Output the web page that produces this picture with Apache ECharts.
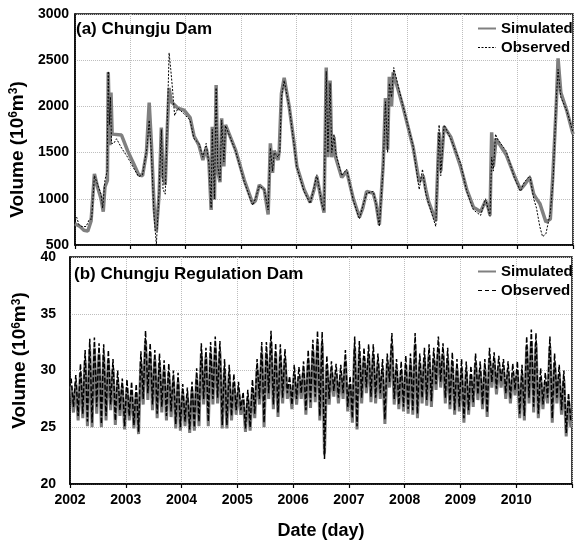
<!DOCTYPE html>
<html>
<head>
<meta charset="utf-8">
<script src="https://cdn.jsdelivr.net/npm/echarts@6/dist/echarts.min.js"></script>
<style>
  html, body { margin: 0; background: #fff; }
  #chart { width: 575px; height: 541px; }
</style>
</head>
<body>
<div id="chart"></div>
<script>
// (a) Chungju Dam storage, [decimal year, 10^6 m3]
const damSim = [
  [2002.00, 730], [2002.09, 700], [2002.16, 660], [2002.23, 650], [2002.29, 760], [2002.35, 1270],
  [2002.41, 1120], [2002.47, 1000], [2002.51, 860], [2002.54, 1130], [2002.585, 1200], [2002.60, 2370],
  [2002.63, 1580], [2002.65, 2150], [2002.67, 1700], [2002.70, 1720], [2002.84, 1690], [2002.95, 1520],
  [2003.06, 1380], [2003.15, 1260], [2003.22, 1250], [2003.29, 1500], [2003.34, 2040], [2003.38, 1600],
  [2003.43, 900], [2003.47, 650], [2003.52, 1050], [2003.56, 1770], [2003.59, 1250], [2003.63, 1150],
  [2003.67, 1800], [2003.70, 2200], [2003.74, 2050], [2003.86, 1980], [2003.97, 1960], [2004.08, 1880],
  [2004.15, 1680], [2004.24, 1580], [2004.31, 1420], [2004.37, 1550], [2004.42, 1400], [2004.46, 880],
  [2004.48, 1780], [2004.52, 990], [2004.55, 2230], [2004.58, 1300], [2004.62, 1180], [2004.65, 1870],
  [2004.69, 1350], [2004.72, 1800], [2004.90, 1530], [2005.06, 1200], [2005.21, 950], [2005.26, 980],
  [2005.33, 1150], [2005.42, 1100], [2005.49, 830], [2005.53, 1600], [2005.57, 1280], [2005.60, 1520],
  [2005.67, 1420], [2005.69, 1520], [2005.73, 2140], [2005.78, 2310], [2005.87, 2000], [2005.96, 1600],
  [2006.01, 1350], [2006.14, 1100], [2006.25, 960], [2006.32, 1100], [2006.37, 1240], [2006.46, 960],
  [2006.50, 850], [2006.54, 2420], [2006.57, 1450], [2006.61, 2280], [2006.64, 1450], [2006.68, 1670],
  [2006.71, 1450], [2006.82, 1230], [2006.91, 1300], [2007.03, 1000], [2007.14, 800], [2007.20, 900],
  [2007.27, 1080], [2007.39, 1060], [2007.44, 950], [2007.50, 720], [2007.57, 1380], [2007.61, 2090],
  [2007.65, 1530], [2007.68, 2320], [2007.72, 2000], [2007.75, 2370], [2007.93, 1990], [2008.11, 1560],
  [2008.22, 1180], [2008.29, 1250], [2008.34, 1100], [2008.39, 970], [2008.52, 760], [2008.58, 1720],
  [2008.61, 1300], [2008.67, 1780], [2008.79, 1670], [2008.97, 1345], [2009.08, 1100], [2009.20, 910],
  [2009.33, 860], [2009.42, 980], [2009.47, 900], [2009.50, 820], [2009.53, 1720], [2009.56, 1350],
  [2009.61, 1650], [2009.79, 1480], [2009.94, 1250], [2010.05, 1100], [2010.12, 1150], [2010.22, 1230],
  [2010.29, 1050], [2010.34, 1000], [2010.40, 950], [2010.51, 750], [2010.59, 780], [2010.64, 1300],
  [2010.70, 2050], [2010.73, 2520], [2010.78, 2150], [2010.89, 1950], [2011.00, 1700]
];
const damObs = [
  [2002.00, 760], [2002.03, 800], [2002.07, 720], [2002.12, 700], [2002.20, 700], [2002.26, 780],
  [2002.30, 780], [2002.35, 1250], [2002.41, 1150], [2002.47, 1050], [2002.50, 900], [2002.54, 1200],
  [2002.58, 1300], [2002.60, 2380], [2002.62, 1800], [2002.64, 2100], [2002.66, 1600], [2002.70, 1600],
  [2002.75, 1650], [2002.84, 1550], [2002.95, 1450], [2003.06, 1330], [2003.15, 1240], [2003.22, 1260],
  [2003.30, 1550], [2003.34, 1850], [2003.38, 1500], [2003.43, 800], [2003.47, 500], [2003.52, 1100],
  [2003.56, 1750], [2003.59, 1100], [2003.63, 1050], [2003.67, 1900], [2003.70, 2580], [2003.73, 2400],
  [2003.76, 2200], [2003.80, 1900], [2003.86, 1980], [2003.97, 1920], [2004.08, 1850], [2004.15, 1650],
  [2004.24, 1600], [2004.31, 1450], [2004.37, 1600], [2004.42, 1380], [2004.46, 900], [2004.48, 1750],
  [2004.52, 1000], [2004.55, 2200], [2004.58, 1350], [2004.62, 1200], [2004.65, 1850], [2004.69, 1400],
  [2004.72, 1790], [2004.90, 1520], [2005.06, 1180], [2005.21, 930], [2005.26, 1000], [2005.33, 1140],
  [2005.42, 1100], [2005.49, 880], [2005.53, 1550], [2005.57, 1300], [2005.60, 1500], [2005.67, 1450],
  [2005.70, 1500], [2005.73, 2100], [2005.78, 2280], [2005.87, 2000], [2005.96, 1580], [2006.01, 1340],
  [2006.14, 1080], [2006.25, 950], [2006.32, 1120], [2006.37, 1260], [2006.46, 950], [2006.50, 870],
  [2006.54, 2380], [2006.57, 1500], [2006.61, 2250], [2006.64, 1500], [2006.68, 1700], [2006.71, 1500],
  [2006.82, 1250], [2006.91, 1320], [2007.03, 980], [2007.14, 780], [2007.20, 920], [2007.27, 1060],
  [2007.39, 1080], [2007.44, 950], [2007.50, 700], [2007.57, 1350], [2007.61, 2050], [2007.65, 1500],
  [2007.68, 2250], [2007.72, 2100], [2007.76, 2420], [2007.93, 2000], [2008.11, 1570], [2008.22, 1100],
  [2008.28, 1320], [2008.34, 1050], [2008.39, 950], [2008.52, 700], [2008.58, 1800], [2008.61, 1250],
  [2008.67, 1800], [2008.79, 1650], [2008.97, 1380], [2009.08, 1080], [2009.20, 880], [2009.33, 820],
  [2009.42, 1000], [2009.47, 880], [2009.50, 810], [2009.53, 1450], [2009.56, 1300], [2009.60, 1700],
  [2009.63, 1650], [2009.79, 1520], [2009.94, 1230], [2010.05, 1080], [2010.12, 1180], [2010.22, 1250],
  [2010.29, 1000], [2010.34, 900], [2010.40, 700], [2010.45, 590], [2010.51, 620], [2010.59, 850],
  [2010.64, 1200], [2010.70, 2100], [2010.73, 2400], [2010.78, 2100], [2010.89, 1950], [2011.00, 1720]
];

// (b) Chungju Regulation Dam, two samples per month (peak, trough) from Jan 2002
const regStart = 2002;
const regPerYear = 24;
const regObs = [
  /*2002*/ 29.3,26.8, 29.6,26.0, 30.6,26.2, 31.8,25.5, 32.8,25.4, 32.9,26.8, 32.4,25.3, 32.3,26.0, 31.8,27.0, 31.0,25.6, 30.0,26.5, 29.3,25.1,
  /*2003*/ 29.2,26.0, 29.0,25.2, 28.8,24.6, 31.7,27.5, 33.5,28.0, 32.4,27.0, 31.8,26.2, 31.5,26.8, 30.9,26.0, 30.6,26.4, 30.0,25.3, 29.8,25.0,
  /*2004*/ 28.8,25.5, 28.5,24.8, 29.0,25.0, 30.2,25.5, 32.4,27.5, 32.0,25.5, 32.5,27.5, 33.0,27.6, 32.6,25.2, 31.0,25.2, 30.5,26.0, 29.7,26.5,
  /*2005*/ 29.0,26.5, 28.1,24.9, 28.3,25.0, 29.2,26.2, 31.0,27.5, 32.5,25.4, 32.5,28.0, 33.5,27.0, 32.4,26.3, 32.3,27.6, 31.9,28.0, 29.5,27.0,
  /*2006*/ 30.5,27.5, 30.3,28.0, 30.8,26.5, 31.8,27.2, 32.7,27.7, 33.5,26.0, 33.4,22.2, 31.3,27.5, 30.8,28.2, 30.6,27.6, 30.5,28.0, 31.8,26.8,
  /*2007*/ 29.5,25.8, 33.0,25.1, 32.6,27.6, 32.0,28.5, 32.3,27.7, 32.3,27.6, 31.5,28.0, 31.0,25.7, 31.5,29.0, 33.3,27.5, 31.0,27.0, 30.8,26.8,
  /*2008*/ 31.3,26.6, 31.5,26.5, 33.3,26.2, 31.5,27.6, 32.0,27.4, 32.3,27.3, 32.0,28.8, 33.0,29.0, 32.4,27.6, 32.0,27.0, 31.6,26.5, 31.0,26.8,
  /*2009*/ 31.0,25.8, 30.8,26.5, 30.4,27.2, 31.5,27.9, 30.8,27.0, 31.0,26.3, 32.0,29.0, 31.6,28.4, 31.3,29.0, 31.0,28.0, 30.8,27.5, 30.6,28.3,
  /*2010*/ 30.8,26.2, 30.5,26.0, 33.0,27.6, 33.6,26.8, 33.3,26.2, 30.2,27.0, 29.8,27.6, 33.0,25.8, 31.5,27.6, 30.5,26.5, 30.0,24.5, 28.0,25.5
];
const regSim = [
  /*2002*/ 28.6,26.3, 28.9,25.6, 29.8,25.8, 30.9,25.1, 31.9,25.0, 32.0,26.2, 31.5,25.0, 31.4,25.6, 30.9,26.5, 30.2,25.2, 29.2,26.0, 28.6,24.8,
  /*2003*/ 28.5,25.6, 28.3,24.9, 28.0,24.4, 30.8,27.0, 32.6,27.4, 31.6,26.5, 31.0,25.8, 30.7,26.3, 30.1,25.6, 29.8,25.9, 29.2,24.9, 29.0,24.7,
  /*2004*/ 28.1,25.1, 27.8,24.5, 28.3,24.7, 29.4,25.1, 31.5,27.0, 31.2,25.1, 31.6,27.0, 32.1,27.1, 31.7,24.9, 30.2,24.9, 29.7,25.6, 29.0,26.1,
  /*2005*/ 28.3,26.1, 27.5,24.6, 27.6,24.7, 28.5,25.8, 30.2,27.0, 31.6,25.0, 31.6,27.5, 32.5,26.6, 31.5,25.9, 31.4,27.1, 31.0,27.5, 28.8,26.6,
  /*2006*/ 29.7,27.0, 29.5,27.5, 30.0,26.1, 30.9,26.7, 31.8,27.2, 32.5,25.6, 32.4,22.6, 30.5,27.0, 30.0,27.7, 29.8,27.1, 29.7,27.5, 30.9,26.4,
  /*2007*/ 28.8,25.4, 32.0,24.8, 31.7,27.1, 31.1,28.0, 31.4,27.2, 31.4,27.1, 30.7,27.5, 30.2,25.3, 30.7,28.5, 32.3,27.0, 30.2,26.6, 30.0,26.4,
  /*2008*/ 30.5,26.2, 30.7,26.1, 32.3,25.8, 30.7,27.1, 31.1,26.9, 31.4,26.8, 31.1,28.3, 32.0,28.5, 31.5,27.1, 31.1,26.6, 30.8,26.1, 30.2,26.4,
  /*2009*/ 30.2,25.4, 30.0,26.1, 29.6,26.8, 30.7,27.4, 30.0,26.6, 30.2,25.9, 31.1,28.5, 30.8,27.9, 30.5,28.5, 30.2,27.5, 30.0,27.1, 29.8,27.8,
  /*2010*/ 30.0,25.8, 29.7,25.6, 32.1,27.1, 32.6,26.3, 32.4,25.8, 29.4,26.6, 29.0,27.1, 32.1,25.4, 30.7,27.1, 29.7,26.1, 29.2,24.2, 27.4,25.0
];

const yearTicks = [2002, 2003, 2004, 2005, 2006, 2007, 2008, 2009, 2010];

const toSeries = vals => vals.map((v, i) => [regStart + (i + 0.5) / regPerYear, v]);

const font = "'Liberation Sans', Arial, sans-serif";
const gridLine = { show: true, lineStyle: { color: '#bdbdbd', type: 'dotted', width: 1 } };

function xAxis(gridIndex, withLabels) {
  return {
    type: 'value', gridIndex: gridIndex, min: 2002, max: 2011, interval: 1,
    axisLine: { show: true, lineStyle: { color: '#000', width: 1.5 } },
    axisTick: { show: true, length: 4, lineStyle: { color: '#000', width: 1.2 } },
    axisLabel: {
      show: withLabels, margin: 9, color: '#000', fontFamily: font, fontWeight: 'bold', fontSize: 14,
      formatter: v => yearTicks.includes(v) ? String(v) : ''
    },
    splitLine: gridLine,
    name: withLabels ? 'Date (day)' : '',
    nameLocation: 'middle', nameGap: 38,
    nameTextStyle: { color: '#000', fontFamily: font, fontWeight: 'bold', fontSize: 18 }
  };
}

function yAxis(gridIndex, min, max, step, margin, pad) {
  return {
    type: 'value', gridIndex: gridIndex, min: min, max: max, interval: step,
    axisLine: { show: true, lineStyle: { color: '#000', width: 1.5 } },
    axisTick: { show: false },
    axisLabel: {
      margin: margin, color: '#000', fontFamily: font, fontWeight: 'bold', fontSize: 14,
      formatter: v => String(v)
    },
    splitLine: gridLine,
    name: 'Volume (10{s|6}m{s|3})',
    nameLocation: 'middle', nameGap: 38,
    nameTextStyle: {
      color: '#000', fontFamily: font, fontWeight: 'bold', fontSize: 19, padding: pad,
      rich: { s: { fontSize: 12, fontWeight: 'bold', fontFamily: font, color: '#000', verticalAlign: 'top' } }
    }
  };
}

function legend(top, obsDash, obsWidth) {
  return {
    orient: 'vertical', left: 477, top: top, padding: 0,
    itemWidth: 18, itemHeight: 10, itemGap: 4,
    itemStyle: { opacity: 0 },
    textStyle: { color: '#000', fontFamily: font, fontWeight: 'bold', fontSize: 15 },
    data: [
      { name: 'Simulated' },
      { name: 'Observed', lineStyle: { type: obsDash, width: obsWidth, color: '#000' } }
    ]
  };
}

const chart = echarts.init(document.getElementById('chart'));

chart.setOption({
  animation: false,
  backgroundColor: '#fff',
  title: [
    { text: '(a) Chungju Dam', left: 76, top: 21, padding: 0,
      textStyle: { color: '#000', fontFamily: font, fontWeight: 'bold', fontSize: 17 } },
    { text: '(b) Chungju Regulation Dam', left: 74, top: 266, padding: 0,
      textStyle: { color: '#000', fontFamily: font, fontWeight: 'bold', fontSize: 17 } }
  ],
  legend: [legend(21, [2, 1.5], 1), legend(264, [4, 3], 1.2)],
  grid: [
    { left: 70, right: 2, top: 14, height: 231, show: true, borderColor: '#000', borderWidth: 1.5 },
    { left: 70, right: 2, top: 257, height: 237, show: true, borderColor: '#000', borderWidth: 1.5 }
  ],
  xAxis: [xAxis(0, false), xAxis(1, true)],
  yAxis: [yAxis(0, 500, 3000, 500, 6, [0, 40, 0, 0]), yAxis(1, 20, 40, 5, 14, [0, 0, 0, 20])],
  series: [
    { name: 'Simulated', type: 'line', xAxisIndex: 0, yAxisIndex: 0, data: damSim,
      symbol: 'none', lineStyle: { color: '#808080', width: 3.5 }, itemStyle: { color: '#808080' }, z: 2 },
    { name: 'Observed', type: 'line', xAxisIndex: 0, yAxisIndex: 0, data: damObs,
      symbol: 'none', lineStyle: { color: '#000', width: 1, type: [2, 1.5] }, itemStyle: { color: '#000' }, z: 3 },
    { name: 'Simulated', type: 'line', xAxisIndex: 1, yAxisIndex: 1, data: toSeries(regSim),
      symbol: 'none', lineStyle: { color: '#7a7a7a', width: 3 }, itemStyle: { color: '#7a7a7a' }, z: 2 },
    { name: 'Observed', type: 'line', xAxisIndex: 1, yAxisIndex: 1, data: toSeries(regObs),
      symbol: 'none', lineStyle: { color: '#000', width: 1.5, type: [5, 2] }, itemStyle: { color: '#000' }, z: 3 }
  ]
});
</script>
</body>
</html>
